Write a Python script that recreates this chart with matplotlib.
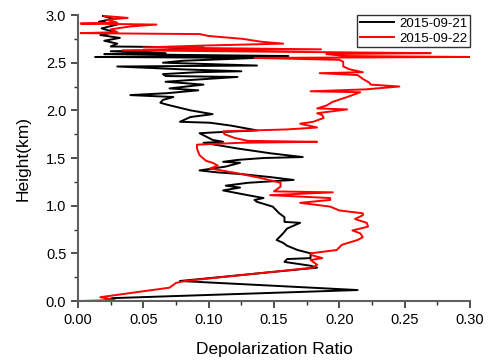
import matplotlib
matplotlib.use('Agg')
import matplotlib.pyplot as plt
from matplotlib.ticker import MultipleLocator

plt.rcParams['font.family'] = ['Liberation Sans', 'DejaVu Sans']

# 2015-09-21 profile (height km, depolarization ratio)
h_0921 = [0.00, 0.03, 0.115, 0.21, 0.35, 0.37, 0.41, 0.44, 0.45, 0.50,
          0.535, 0.58, 0.61, 0.64, 0.71, 0.76, 0.82, 0.83, 0.88, 0.92,
          0.99, 1.04, 1.06, 1.08, 1.11, 1.16, 1.19, 1.21, 1.24, 1.27,
          1.30, 1.33, 1.35, 1.37, 1.41, 1.45, 1.46, 1.48, 1.50, 1.51,
          1.55, 1.60, 1.66, 1.67, 1.69, 1.76, 1.77, 1.79, 1.84, 1.87,
          1.88, 1.93, 1.96, 2.00, 2.06, 2.08, 2.11, 2.14, 2.16, 2.18,
          2.21, 2.23, 2.27, 2.30, 2.32, 2.35, 2.36, 2.38, 2.40, 2.41,
          2.43, 2.46, 2.47, 2.50, 2.52, 2.55, 2.56, 2.57, 2.59, 2.60,
          2.62, 2.63, 2.66, 2.67, 2.70, 2.73, 2.76, 2.79, 2.82, 2.86,
          2.90, 2.93, 2.96, 2.99]
dr_0921 = [0.020, 0.026, 0.214, 0.078, 0.183, 0.178, 0.158, 0.160, 0.178, 0.178,
           0.168, 0.160, 0.157, 0.152, 0.157, 0.160, 0.170, 0.158, 0.158, 0.154,
           0.149, 0.137, 0.135, 0.142, 0.130, 0.111, 0.124, 0.113, 0.130, 0.165,
           0.147, 0.126, 0.106, 0.093, 0.113, 0.124, 0.111, 0.122, 0.142, 0.172,
           0.147, 0.122, 0.096, 0.111, 0.103, 0.093, 0.106, 0.137, 0.117, 0.101,
           0.078, 0.086, 0.103, 0.086, 0.068, 0.063, 0.065, 0.073, 0.040, 0.068,
           0.092, 0.070, 0.096, 0.067, 0.088, 0.122, 0.067, 0.065, 0.091, 0.125,
           0.080, 0.030, 0.137, 0.065, 0.080, 0.137, 0.013, 0.161, 0.020, 0.067,
           0.025, 0.060, 0.096, 0.025, 0.030, 0.020, 0.032, 0.017, 0.028, 0.018,
           0.030, 0.016, 0.027, 0.019]

# 2015-09-22 profile
h_0922 = [0.00, 0.01, 0.04, 0.14, 0.19, 0.21, 0.35, 0.38, 0.43, 0.45,
          0.48, 0.50, 0.535, 0.59, 0.64, 0.67, 0.71, 0.74, 0.78, 0.82,
          0.86, 0.90, 0.92, 0.95, 0.99, 1.03, 1.06, 1.08, 1.11, 1.14,
          1.15, 1.20, 1.24, 1.29, 1.34, 1.39, 1.42, 1.45, 1.47, 1.53,
          1.60, 1.64, 1.66, 1.67, 1.68, 1.71, 1.75, 1.78, 1.80, 1.82,
          1.86, 1.88, 1.92, 1.95, 1.97, 2.01, 2.02, 2.05, 2.09, 2.14,
          2.19, 2.20, 2.22, 2.25, 2.27, 2.29, 2.33, 2.37, 2.39, 2.40,
          2.43, 2.46, 2.51, 2.53, 2.55, 2.56, 2.57, 2.59, 2.60, 2.61,
          2.63, 2.64, 2.66, 2.68, 2.70, 2.72, 2.75, 2.78, 2.80, 2.81,
          2.82, 2.85, 2.88, 2.90, 2.91, 2.92, 2.95, 2.97, 2.99]
dr_0922 = [0.002, 0.028, 0.017, 0.070, 0.075, 0.082, 0.180, 0.183, 0.178, 0.187,
           0.179, 0.178, 0.198, 0.202, 0.214, 0.218, 0.216, 0.210, 0.222, 0.221,
           0.212, 0.218, 0.218, 0.200, 0.193, 0.170, 0.193, 0.193, 0.147, 0.195,
           0.150, 0.155, 0.155, 0.140, 0.122, 0.101, 0.107, 0.103, 0.098, 0.093,
           0.091, 0.091, 0.125, 0.183, 0.130, 0.120, 0.112, 0.111, 0.160, 0.183,
           0.170, 0.180, 0.188, 0.187, 0.183, 0.206, 0.183, 0.190, 0.195, 0.206,
           0.216, 0.178, 0.220, 0.246, 0.224, 0.223, 0.218, 0.214, 0.185, 0.218,
           0.208, 0.203, 0.203, 0.200, 0.135, 0.300, 0.205, 0.190, 0.270, 0.190,
           0.034, 0.186, 0.050, 0.097, 0.157, 0.140, 0.126, 0.100, 0.093, 0.002,
           0.030, 0.025, 0.040, 0.060, 0.002, 0.030, 0.022, 0.038, 0.020]

fig = plt.figure(figsize=(4.88, 3.62), dpi=100)
ax = fig.add_axes([0.160, 0.1685, 0.803, 0.790])

ax.plot(dr_0921, h_0921, color='black', linewidth=1.4, label='2015-09-21')
ax.plot(dr_0922, h_0922, color='red', linewidth=1.4, label='2015-09-22')

ax.set_xlim(0, 0.30)
ax.set_ylim(0, 3.0)
ax.xaxis.set_major_locator(MultipleLocator(0.05))
ax.xaxis.set_minor_locator(MultipleLocator(0.025))
ax.yaxis.set_major_locator(MultipleLocator(0.5))
ax.yaxis.set_minor_locator(MultipleLocator(0.25))
ax.xaxis.set_major_formatter(matplotlib.ticker.FormatStrFormatter('%.2f'))
ax.yaxis.set_major_formatter(matplotlib.ticker.FormatStrFormatter('%.1f'))

for s in ['top', 'right']:
    ax.spines[s].set_visible(False)
for s in ['left', 'bottom']:
    ax.spines[s].set_color('#606060')
    ax.spines[s].set_linewidth(1.5)

ax.tick_params(which='major', direction='out', length=5, width=1.2,
               color='#303030', labelsize=10.5)
ax.tick_params(which='minor', direction='out', length=3, width=1.0, color='#303030')

ax.set_xlabel('Depolarization Ratio', fontsize=12.5, labelpad=11)
ax.set_ylabel('Height(km)', fontsize=12.5, labelpad=11)

leg = ax.legend(loc='upper right', bbox_to_anchor=(1.008, 1.01), fontsize=9.5,
                frameon=True, fancybox=False, handlelength=2.6,
                borderpad=0.2, labelspacing=0.2, handletextpad=0.4,
                borderaxespad=0.2)
leg.get_frame().set_edgecolor('black')
leg.get_frame().set_linewidth(1.0)

fig.savefig('out.png', dpi=100)
